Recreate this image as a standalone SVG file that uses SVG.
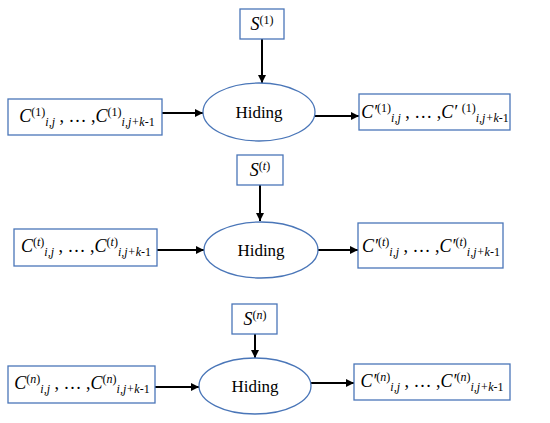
<svg xmlns="http://www.w3.org/2000/svg" width="550" height="423" viewBox="0 0 550 423" font-family="'Liberation Serif', 'Times New Roman', Times, serif">
<style>
.box{fill:#fff;stroke:#4a76b8;stroke-width:1.3}
.ell{fill:#fff;stroke:#4a76b8;stroke-width:1.3}
.t{font-size:18px}
.it{font-style:italic}
.sm{font-size:12px}
.h{font-size:17px}
.arr{stroke:#000;stroke-width:2;fill:none;marker-end:url(#ah)}
</style>
<defs>
<marker id="ah" viewBox="0 0 10 10" refX="10" refY="5" markerWidth="4" markerHeight="4" orient="auto" markerUnits="strokeWidth">
<path d="M0,0 L10,5 L0,10 z" fill="#000"/>
</marker>
</defs>
<g id="connectors">
<line class="arr" x1="262" y1="39" x2="262" y2="83"/>
<line class="arr" x1="162" y1="113" x2="203" y2="113"/>
<line class="arr" x1="315" y1="116" x2="359" y2="116"/>
<line class="arr" x1="260" y1="185" x2="260" y2="221"/>
<line class="arr" x1="157" y1="250" x2="204" y2="250"/>
<line class="arr" x1="318" y1="250" x2="358" y2="250"/>
<line class="arr" x1="255" y1="334" x2="255" y2="358"/>
<line class="arr" x1="155" y1="387" x2="199" y2="387"/>
<line class="arr" x1="310" y1="383" x2="354" y2="383"/>
</g>
<g id="s1"><rect class="box" x="240" y="9" width="44" height="30"/>
<text class="t" x="262" y="30" text-anchor="middle"><tspan class="it">S</tspan><tspan class="sm" dy="-6">(1)</tspan></text></g>
<g id="hiding1"><ellipse class="ell" cx="259" cy="112" rx="56" ry="29"/>
<text class="h" x="259" y="118" text-anchor="middle">Hiding</text></g>
<g id="in1"><rect class="box" x="8" y="99" width="154" height="36"/>
<text class="t" x="87" y="122" text-anchor="middle"><tspan class="it">C</tspan><tspan class="sm" dy="-6">(1)</tspan><tspan class="sm it" dy="10">i,j</tspan><tspan dy="-4"> , … ,</tspan><tspan class="it">C</tspan><tspan class="sm" dy="-6">(1)</tspan><tspan class="sm it" dy="10">i,j+k</tspan><tspan class="sm">-1</tspan></text></g>
<g id="out1"><rect class="box" x="359" y="94" width="151" height="36"/>
<text class="t" x="435" y="118" text-anchor="middle"><tspan class="it">C′</tspan><tspan class="sm" dy="-6">(1)</tspan><tspan class="sm it" dy="10">i,j</tspan><tspan dy="-4"> , … ,</tspan><tspan class="it">C′ </tspan><tspan class="sm" dy="-6">(1)</tspan><tspan class="sm it" dy="10">i,j+k</tspan><tspan class="sm">-1</tspan></text></g>

<g id="st"><rect class="box" x="237" y="155" width="46" height="30"/>
<text class="t" x="260" y="176" text-anchor="middle"><tspan class="it">S</tspan><tspan class="sm" dy="-6">(<tspan class="it">t</tspan>)</tspan></text></g>
<g id="hidingt"><ellipse class="ell" cx="261" cy="250" rx="57" ry="28"/>
<text class="h" x="261" y="256" text-anchor="middle">Hiding</text></g>
<g id="int"><rect class="box" x="14" y="229" width="143" height="37"/>
<text class="t" x="86" y="252" text-anchor="middle"><tspan class="it">C</tspan><tspan class="sm" dy="-6">(<tspan class="it">t</tspan>)</tspan><tspan class="sm it" dy="10">i,j</tspan><tspan dy="-4"> , … ,</tspan><tspan class="it">C</tspan><tspan class="sm" dy="-6">(<tspan class="it">t</tspan>)</tspan><tspan class="sm it" dy="10">i,j+k</tspan><tspan class="sm">-1</tspan></text></g>
<g id="outt"><rect class="box" x="358" y="223" width="145" height="45"/>
<text class="t" x="431" y="252" text-anchor="middle"><tspan class="it">C′</tspan><tspan class="sm" dy="-6">(<tspan class="it">t</tspan>)</tspan><tspan class="sm it" dy="10">i,j</tspan><tspan dy="-4"> , … ,</tspan><tspan class="it">C′</tspan><tspan class="sm" dy="-6">(<tspan class="it">t</tspan>)</tspan><tspan class="sm it" dy="10">i,j+k</tspan><tspan class="sm">-1</tspan></text></g>

<g id="sn"><rect class="box" x="232" y="304" width="45" height="30"/>
<text class="t" x="255" y="325" text-anchor="middle"><tspan class="it">S</tspan><tspan class="sm" dy="-6">(<tspan class="it">n</tspan>)</tspan></text></g>
<g id="hidingn"><ellipse class="ell" cx="255" cy="386" rx="56" ry="28"/>
<text class="h" x="255" y="392" text-anchor="middle">Hiding</text></g>
<g id="inn"><rect class="box" x="8" y="366" width="147" height="37"/>
<text class="t" x="82" y="389" text-anchor="middle"><tspan class="it">C</tspan><tspan class="sm" dy="-6">(<tspan class="it">n</tspan>)</tspan><tspan class="sm it" dy="10">i,j</tspan><tspan dy="-4"> , … ,</tspan><tspan class="it">C</tspan><tspan class="sm" dy="-6">(<tspan class="it">n</tspan>)</tspan><tspan class="sm it" dy="10">i,j+k</tspan><tspan class="sm">-1</tspan></text></g>
<g id="outn"><rect class="box" x="354" y="364" width="156" height="36"/>
<text class="t" x="432" y="387" text-anchor="middle"><tspan class="it">C′</tspan><tspan class="sm" dy="-6">(<tspan class="it">n</tspan>)</tspan><tspan class="sm it" dy="10">i,j</tspan><tspan dy="-4"> , … ,</tspan><tspan class="it">C′</tspan><tspan class="sm" dy="-6">(<tspan class="it">n</tspan>)</tspan><tspan class="sm it" dy="10">i,j+k</tspan><tspan class="sm">-1</tspan></text></g>
</svg>
